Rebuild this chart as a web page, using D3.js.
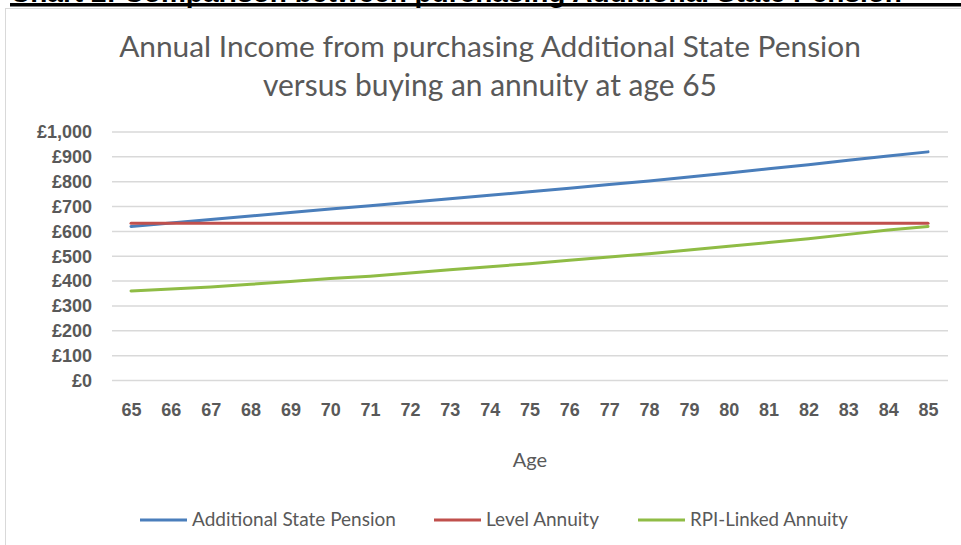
<html lang="en">
<head>
<meta charset="utf-8">
<title>Annual Income from purchasing Additional State Pension</title>
<script src="https://cdn.jsdelivr.net/npm/d3@7"></script>
<style>
  body { margin: 0; background: white; }
  svg { display: block; font-family: Lato, "Open Sans", sans-serif; }
  .grid line { stroke: #d9d9d9; stroke-width: 1.5; }
  .axis text { fill: #595959; font-size: 18px; font-weight: bold; }
  .axis path, .axis line { display: none; }
  .title { fill: #595959; }
  .xlabel { fill: #595959; font-size: 20px; }
  .legend text { fill: #595959; }
  .series { fill: none; stroke-width: 3; stroke-linejoin: round; stroke-linecap: round; }
</style>
</head>
<body>
<script>
// data
var ages = [65,66,67,68,69,70,71,72,73,74,75,76,77,78,79,80,81,82,83,84,85];
var additionalStatePension = [620,634,648,662,676,690,703,717,731,745,760,774,789,803,819,835,852,868,886,903,920];
var levelAnnuity = [633,633,633,633,633,633,633,633,633,633,633,633,633,633,633,633,633,633,633,633,633];
var rpiLinkedAnnuity = [360,368,376,387,398,410,420,433,446,458,470,484,497,510,525,540,555,570,588,606,620];
var yTicks = [0,100,200,300,400,500,600,700,800,900,1000];
var seriesNames = ["Additional State Pension", "Level Annuity", "RPI-Linked Annuity"];
var seriesColors = ["#4a7ebb", "#c0504d", "#8fbc45"];
var titleLines = ["Annual Income from purchasing Additional State Pension", "versus buying an annuity at age 65"];

var W = 961, H = 545;
var svg = d3.select("body").append("svg").attr("width", W).attr("height", H);

// heading of the page above, mostly cut off
svg.append("text")
  .attr("x", 10).attr("y", 1.5)
  .style("font-family", "'Liberation Sans', Arial, sans-serif")
  .style("font-size", "28px").style("font-weight", "bold")
  .attr("fill", "black")
  .text("Chart 2: Comparison between purchasing Additional State Pension");
svg.append("rect").attr("x", 10).attr("y", 3).attr("width", W - 10).attr("height", 3.5).attr("fill", "black");

// chart frame
svg.append("line").attr("x1", 5).attr("x2", W).attr("y1", 8.5).attr("y2", 8.5).attr("stroke", "#d9d9d9");
svg.append("line").attr("x1", 5.5).attr("x2", 5.5).attr("y1", 8).attr("y2", H).attr("stroke", "#d9d9d9");

var x = d3.scaleLinear().domain([65, 85]).range([131, 928]);
var y = d3.scaleLinear().domain([0, 1000]).range([380.5, 132]);
var gridLeft = 112, gridRight = 948;

// fit a text element to a target width by scaling its font size
function fitWidth(el, base, target) {
  el.style("font-size", base + "px");
  var w = el.node().getComputedTextLength();
  el.style("font-size", (base * target / w) + "px");
}

// title
var titleWidths = [742, 454];
var titleY = [57, 96];
titleLines.forEach(function(t, i) {
  var el = svg.append("text").attr("class", "title")
    .attr("x", 490).attr("y", titleY[i])
    .attr("text-anchor", "middle")
    .text(t);
  fitWidth(el, 26, titleWidths[i]);
});

// gridlines
svg.append("g").attr("class", "grid")
  .selectAll("line").data(yTicks).enter().append("line")
  .attr("x1", gridLeft).attr("x2", gridRight)
  .attr("y1", function(d) { return y(d); })
  .attr("y2", function(d) { return y(d); });

// axes
var yAxis = d3.axisLeft(y).tickValues(yTicks).tickSize(0).tickPadding(0)
  .tickFormat(function(d) { return "£" + d3.format(",")(d); });
svg.append("g").attr("class", "y axis")
  .attr("transform", "translate(92,0)")
  .call(yAxis);

var xAxis = d3.axisBottom(x).tickValues(ages).tickSize(0).tickPadding(0)
  .tickFormat(d3.format("d"));
svg.append("g").attr("class", "x axis")
  .attr("transform", "translate(0,403)")
  .call(xAxis);

svg.append("text").attr("class", "xlabel")
  .attr("x", 530).attr("y", 467)
  .attr("text-anchor", "middle")
  .text("Age");

// lines
var line = d3.line()
  .x(function(d, i) { return x(ages[i]); })
  .y(function(d) { return y(d); });

[additionalStatePension, levelAnnuity, rpiLinkedAnnuity].forEach(function(s, i) {
  svg.append("path").attr("class", "series")
    .attr("stroke", seriesColors[i])
    .attr("d", line(s));
});

// legend
var legendX = [140, 434, 638];
var legendTextW = [204, 113, 158];
var legend = svg.append("g").attr("class", "legend");
seriesNames.forEach(function(name, i) {
  legend.append("line")
    .attr("x1", legendX[i]).attr("x2", legendX[i] + 47)
    .attr("y1", 520).attr("y2", 520)
    .attr("stroke", seriesColors[i]).attr("stroke-width", 3);
  var t = legend.append("text")
    .attr("x", legendX[i] + 52).attr("y", 526)
    .text(name);
  fitWidth(t, 16, legendTextW[i]);
});
</script>
</body>
</html>
